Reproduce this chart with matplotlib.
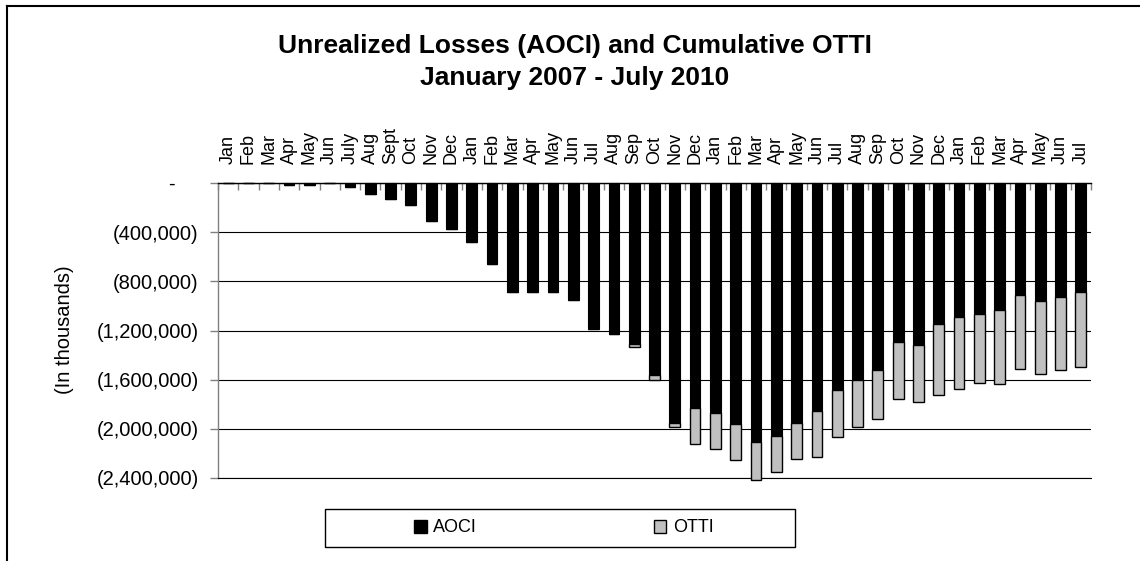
import matplotlib
matplotlib.use("Agg")
import matplotlib.pyplot as plt
import numpy as np
from matplotlib.lines import Line2D
from matplotlib.patches import Rectangle, Patch

plt.rcParams["font.family"] = ["Liberation Sans", "DejaVu Sans"]

# Month labels, January 2007 - July 2010
months = ["Jan", "Feb", "Mar", "Apr", "May", "Jun", "July", "Aug", "Sept", "Oct", "Nov", "Dec",
          "Jan", "Feb", "Mar", "Apr", "May", "Jun", "Jul", "Aug", "Sep", "Oct", "Nov", "Dec",
          "Jan", "Feb", "Mar", "Apr", "May", "Jun", "Jul", "Aug", "Sep", "Oct", "Nov", "Dec",
          "Jan", "Feb", "Mar", "Apr", "May", "Jun", "Jul"]

# Unrealized losses in AOCI (in thousands)
aoci = [0, 0, 0, -19000, -19000, 0, -30000, -89000, -130000, -182000, -306000, -373000,
        -479000, -657000, -890000, -890000, -890000, -955000, -1188000, -1228000, -1308000,
        -1565000, -1949000, -1827000,
        -1868000, -1963000, -2109000, -2058000, -1949000, -1855000, -1687000, -1606000,
        -1525000, -1294000, -1321000, -1145000,
        -1091000, -1064000, -1037000, -915000, -956000, -929000, -888000]

# Cumulative OTTI (in thousands)
otti = [0, 0, 0, 0, 0, 0, 0, 0, 0, 0, 0, 0,
        0, 0, 0, 0, 0, 0, 0, 0, -27000, -40000, -36000, -293000,
        -292000, -292000, -309000, -292000, -293000, -374000, -379000, -379000,
        -392000, -460000, -461000, -583000,
        -582000, -564000, -596000, -596000, -595000, -596000, -610000]

y_ticks = [0, -400000, -800000, -1200000, -1600000, -2000000, -2400000]

W, H = 1140, 561
fig = plt.figure(figsize=(W / 100, H / 100), dpi=100)
fig.patch.set_facecolor("white")


def fx(px):
    return px / W


def fy(py):
    return 1 - py / H


ax = fig.add_axes([fx(218), fy(478), fx(1091 - 218), (478 - 183) / H])

x = np.arange(len(months))
aoci_arr = np.array(aoci)
otti_arr = np.array(otti)

ax.bar(x, aoci_arr, width=0.53, color="black", edgecolor="black", linewidth=0.8,
       clip_on=False, zorder=3)
ax.bar(x, otti_arr, bottom=aoci_arr, width=0.53, color="#c0c0c0", edgecolor="black",
       linewidth=1.0, clip_on=False, zorder=3)

ax.set_xlim(-0.5, len(months) - 0.5)
ax.set_ylim(-2400000, 0)

# Spines: axis line along zero at the top, grey value axis on the left,
# bottom edge doubles as the lowest gridline
ax.spines["right"].set_visible(False)
ax.spines["top"].set_color("black")
ax.spines["top"].set_linewidth(1.0)
ax.spines["bottom"].set_color("black")
ax.spines["bottom"].set_linewidth(0.8)
ax.spines["left"].set_color("#808080")
ax.spines["left"].set_linewidth(1.0)

ax.yaxis.grid(True, color="black", linewidth=0.8)
ax.set_axisbelow(True)

# Category axis across the top
ax.xaxis.tick_top()
ax.set_xticks(x)
ax.set_xticklabels(months, rotation=90, fontsize=13)
ax.set_xticks(np.arange(-0.5, len(months), 1.0), minor=True)
ax.tick_params(axis="x", which="major", length=0, pad=14, top=True, bottom=False)
ax.tick_params(axis="x", which="minor", direction="in", length=5, width=1,
               color="#808080", top=True, bottom=False)


def acct(v):
    if v == 0:
        return "-    "
    return "({:,.0f})".format(abs(v))


ax.set_yticks(y_ticks)
ax.set_yticklabels([acct(v) for v in y_ticks], fontsize=14.5)
ax.tick_params(axis="y", direction="out", length=6, width=1, color="#808080", pad=8)

fig.text(fx(65), fy(330), "(In thousands)", rotation=90, ha="center", va="center",
         fontsize=14.5)

fig.text(fx(575), fy(46), "Unrealized Losses (AOCI) and Cumulative OTTI", ha="center",
         va="center", fontsize=19, fontweight="bold")
fig.text(fx(575), fy(78), "January 2007 - July 2010", ha="center", va="center",
         fontsize=19, fontweight="bold")

# Legend
handles = [Patch(facecolor="black", edgecolor="black"),
           Patch(facecolor="#c0c0c0", edgecolor="black")]
fig.legend(handles, ["AOCI", "OTTI"], ncol=2, frameon=False, loc="center left",
           bbox_to_anchor=(fx(414), fy(528)), borderaxespad=0, borderpad=0,
           fontsize=13, handlelength=0.7, handleheight=0.7, handletextpad=0.35,
           columnspacing=9.8)
fig.add_artist(Rectangle((fx(325), fy(547)), fx(470), 38 / H, transform=fig.transFigure,
                         fill=False, edgecolor="black", linewidth=1.0))

# Outer chart frame
fig.add_artist(Line2D([fx(7), fx(7)], [0, fy(6)], transform=fig.transFigure,
                      color="black", linewidth=1.5))
fig.add_artist(Line2D([fx(7), 1], [fy(6), fy(6)], transform=fig.transFigure,
                      color="black", linewidth=1.5))

fig.savefig("out.png", dpi=100)
